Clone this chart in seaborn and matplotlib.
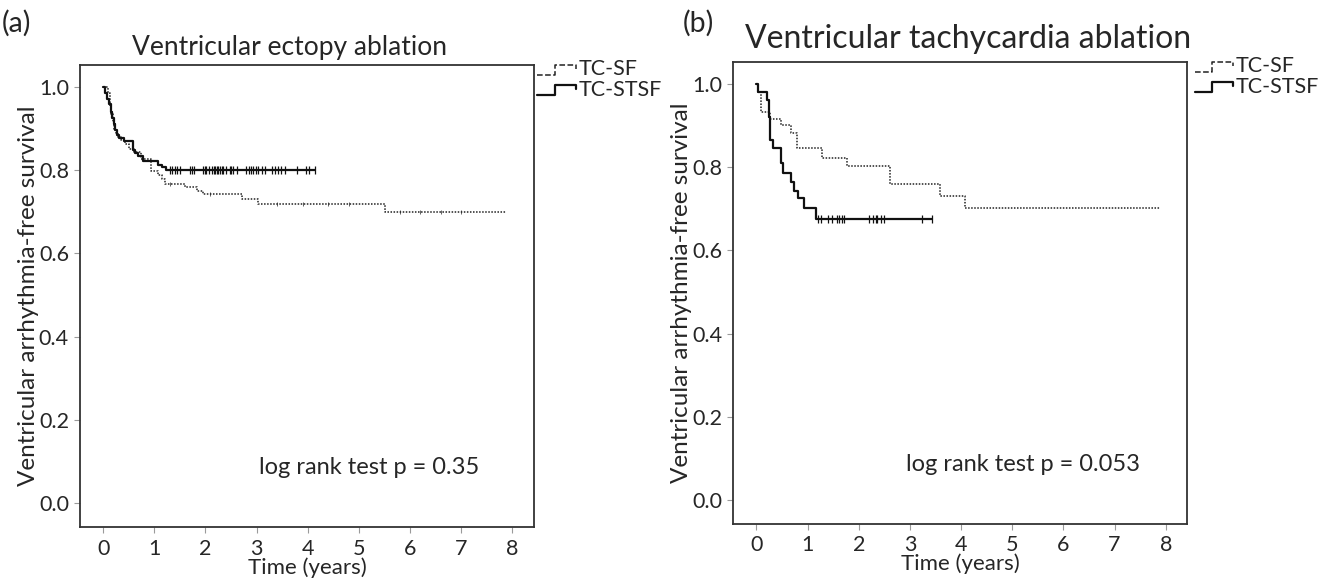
import numpy as np
import pandas as pd
import matplotlib
matplotlib.use("Agg")
import matplotlib.pyplot as plt
from matplotlib.legend_handler import HandlerBase
from matplotlib.lines import Line2D
import seaborn as sns

# ---- data ----
# (a) Ventricular ectopy ablation
ve_sf_time = [0, 0.10, 0.13, 0.16, 0.19, 0.22, 0.26, 0.30, 0.36, 0.42, 0.50, 0.60, 0.75,
              0.94, 1.08, 1.15, 1.21, 1.60, 1.84, 1.96, 2.72, 3.03, 5.52]
ve_sf_surv = [1.0, 0.985, 0.955, 0.935, 0.915, 0.900, 0.890, 0.880, 0.872, 0.862, 0.852,
              0.843, 0.826, 0.798, 0.788, 0.780, 0.768, 0.760, 0.750, 0.742, 0.731, 0.720, 0.700]
ve_sf_end = 7.88
ve_sf_cens = [1.3, 2.1, 3.4, 3.9, 4.4, 4.8, 5.8, 6.2, 6.6, 7.0]

ve_stsf_time = [0, 0.03, 0.07, 0.11, 0.15, 0.18, 0.21, 0.24, 0.28, 0.32, 0.40, 0.58, 0.63,
                0.69, 0.79, 1.08, 1.15, 1.23]
ve_stsf_surv = [1.0, 0.985, 0.970, 0.958, 0.940, 0.925, 0.910, 0.897, 0.885, 0.877, 0.869,
                0.849, 0.841, 0.833, 0.822, 0.813, 0.808, 0.800]
ve_stsf_end = 4.15
ve_stsf_cens = [1.31, 1.34, 1.40, 1.45, 1.50, 1.70, 1.73, 1.78, 1.96, 1.99, 2.02, 2.07,
                2.12, 2.16, 2.19, 2.22, 2.25, 2.28, 2.32, 2.35, 2.41, 2.48, 2.51, 2.54,
                2.61, 2.80, 2.86, 2.90, 2.93, 2.98, 3.03, 3.10, 3.16, 3.31, 3.36, 3.42,
                3.47, 3.55, 3.79, 3.97, 4.02, 4.15]

# (b) Ventricular tachycardia ablation
vt_sf_time = [0, 0.03, 0.09, 0.27, 0.47, 0.68, 0.80, 1.29, 1.76, 2.60, 3.58, 4.07]
vt_sf_surv = [1.0, 0.981, 0.933, 0.917, 0.901, 0.881, 0.845, 0.823, 0.802, 0.759, 0.730, 0.702]
vt_sf_end = 7.89

vt_stsf_time = [0, 0.03, 0.20, 0.24, 0.27, 0.32, 0.47, 0.52, 0.68, 0.74, 0.81, 0.93, 1.16]
vt_stsf_surv = [1.0, 0.981, 0.961, 0.921, 0.865, 0.847, 0.809, 0.786, 0.765, 0.743, 0.725,
                0.703, 0.675]
vt_stsf_end = 3.44
vt_stsf_cens = [1.20, 1.27, 1.40, 1.48, 1.58, 1.62, 1.67, 1.71, 2.20, 2.28, 2.33, 2.36,
                2.43, 2.50, 3.24, 3.44]

titles = ["Ventricular ectopy ablation", "Ventricular tachycardia ablation"]
panel_tags = ["(a)", "(b)"]
pvalues = ["log rank test p = 0.35", "log rank test p = 0.053"]
groups = ["TC-SF", "TC-STSF"]


class StepHandler(HandlerBase):
    # small step-shaped legend key, as the KM software draws it
    def create_artists(self, legend, orig_handle, xdescent, ydescent, width, height, fontsize, trans):
        x0, y0 = -xdescent, -ydescent
        xs = [x0, x0 + 0.45 * width, x0 + 0.45 * width, x0 + width, x0 + width]
        ys = [y0 + 0.05 * height, y0 + 0.05 * height, y0 + 0.7 * height, y0 + 0.7 * height, y0 + 0.45 * height]
        ln = Line2D(xs, ys, color=orig_handle.get_color(), linestyle=orig_handle.get_linestyle(),
                    linewidth=orig_handle.get_linewidth(), transform=trans)
        return [ln]


def step_frame(times, surv, end):
    t = list(times) + [end]
    s = list(surv) + [surv[-1]]
    return pd.DataFrame({"time": t, "surv": s})


def cens_frame(times, surv, cens):
    idx = np.searchsorted(times, cens, side="right") - 1
    return pd.DataFrame({"time": cens, "surv": np.array(surv)[idx]})


sns.set_style("ticks")
plt.rcParams["font.family"] = ["Lato", "DejaVu Sans"]

fig = plt.figure(figsize=(13.23, 5.79), dpi=100)
ax_a = fig.add_axes([0.0605, 0.089, 0.343, 0.799])
ax_b = fig.add_axes([0.5544, 0.095, 0.343, 0.798])

panels = [
    (ax_a, [(ve_sf_time, ve_sf_surv, ve_sf_end, ve_sf_cens),
            (ve_stsf_time, ve_stsf_surv, ve_stsf_end, ve_stsf_cens)]),
    (ax_b, [(vt_sf_time, vt_sf_surv, vt_sf_end, []),
            (vt_stsf_time, vt_stsf_surv, vt_stsf_end, vt_stsf_cens)]),
]
styles = [dict(linestyle=(0, (1, 1)), linewidth=1.1, color="#222222"),
          dict(linestyle="-", linewidth=1.6, color="#111111")]
cens_size = [8, 28]
cens_lw = [0.5, 0.9]
legend_x = [1.008, 1.016]

for i, (ax, curves) in enumerate(panels):
    handles = []
    for k, ((t, s, end, cens), st, name) in enumerate(zip(curves, styles, groups)):
        df = step_frame(t, s, end)
        sns.lineplot(data=df, x="time", y="surv", ax=ax, drawstyle="steps-post",
                     estimator=None, sort=False, **st)
        if len(cens):
            cdf = cens_frame(t, s, cens)
            sns.scatterplot(data=cdf, x="time", y="surv", ax=ax, marker="|", s=cens_size[k],
                            color=st["color"], linewidth=cens_lw[k])
        handles.append(Line2D([], [], label=name, **st))

    ax.set_xlim(-0.45, 8.42)
    ax.set_ylim(-0.058, 1.053)
    ax.set_xticks(range(0, 9))
    ax.set_yticks([0.0, 0.2, 0.4, 0.6, 0.8, 1.0])
    ax.set_yticklabels(["0.0", "0.2", "0.4", "0.6", "0.8", "1.0"])
    ax.tick_params(axis="both", direction="out", length=4, width=0.8, color="#9a9a9a",
                   labelsize=15.5, pad=4)
    ax.tick_params(axis="x", pad=4)
    for sp in ax.spines.values():
        sp.set_visible(True)
        sp.set_color("#333333")
        sp.set_linewidth(1.3)
    ax.set_xlabel("Time (years)", fontsize=16, labelpad=-1)
    ax.set_ylabel("Ventricular arrhythmia-free survival", fontsize=17.5, labelpad=0)

    ax.text(5.2, 0.085, pvalues[i], fontsize=17, ha="center", va="center")

    ax.legend(handles=handles, loc="upper left", bbox_to_anchor=(legend_x[i], 1.012),
              frameon=False, fontsize=15.5, handlelength=1.8, handletextpad=0.12,
              labelspacing=0.02, borderaxespad=0, borderpad=0,
              handler_map={Line2D: StepHandler()})

fig.text(0.001, 0.945, panel_tags[0], fontsize=20.5, ha="left", va="baseline")
fig.text(0.100, 0.905, titles[0], fontsize=19, ha="left", va="baseline")
fig.text(0.516, 0.945, panel_tags[1], fontsize=20.5, ha="left", va="baseline")
fig.text(0.563, 0.917, titles[1], fontsize=23, ha="left", va="baseline")

fig.savefig("out.png", dpi=100)
